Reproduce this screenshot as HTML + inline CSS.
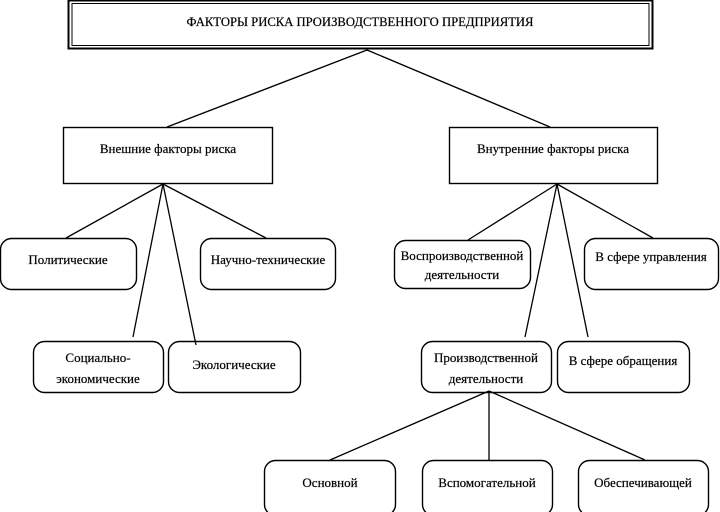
<!DOCTYPE html>
<html><head><meta charset="utf-8"><style>
html,body{margin:0;padding:0;background:#fff;}
svg{display:block;}
</style></head><body>
<svg width="720" height="512" viewBox="0 0 720 512" xmlns="http://www.w3.org/2000/svg">
<g fill="#fff" stroke="#000">
<rect x="68.5" y="0.5" width="584" height="48" stroke-width="2"/>
<rect x="72" y="3.5" width="577" height="42" stroke-width="1"/>
<rect x="63.5" y="127.5" width="209" height="56" stroke-width="1.4"/>
<rect x="449.5" y="127.5" width="208" height="56" stroke-width="1.4"/>
<g stroke-width="1.4">
<rect x="0.5" y="238.5" width="136" height="51" rx="11"/>
<rect x="200.5" y="238.5" width="135" height="51" rx="11"/>
<rect x="394.5" y="240.5" width="136" height="48" rx="11"/>
<rect x="584.5" y="238.5" width="134" height="51" rx="11"/>
<rect x="33.5" y="341.5" width="130" height="51" rx="11"/>
<rect x="168.5" y="341.5" width="132" height="51" rx="11"/>
<rect x="421.5" y="341.5" width="130" height="51" rx="11"/>
<rect x="557.5" y="341.5" width="132" height="51" rx="11"/>
<rect x="264.5" y="460.5" width="131" height="55" rx="11"/>
<rect x="422.5" y="460.5" width="130" height="55" rx="11"/>
<rect x="578.5" y="460.5" width="130" height="55" rx="11"/>
</g>
</g>
<g stroke="#000" stroke-width="1.3" fill="none">
<line x1="367" y1="50" x2="167" y2="127"/>
<line x1="367" y1="50" x2="550" y2="127"/>
<line x1="163" y1="184" x2="66" y2="238"/>
<line x1="163" y1="184" x2="266" y2="238"/>
<line x1="163" y1="184" x2="133" y2="337"/>
<line x1="163" y1="184" x2="196" y2="345"/>
<line x1="557" y1="184" x2="468" y2="240"/>
<line x1="557" y1="184" x2="653" y2="238"/>
<line x1="557" y1="184" x2="525" y2="337"/>
<line x1="557" y1="184" x2="588" y2="337"/>
<line x1="489" y1="391" x2="330" y2="460"/>
<line x1="489" y1="391" x2="489" y2="460"/>
<line x1="489" y1="391" x2="645" y2="460"/>
</g>
<g font-family="'Liberation Serif', 'DejaVu Serif', serif" font-size="13" text-anchor="middle" fill="#000" stroke="#000" stroke-width="0.2">
<text x="360" y="26" textLength="347" lengthAdjust="spacingAndGlyphs">ФАКТОРЫ РИСКА ПРОИЗВОДСТВЕННОГО ПРЕДПРИЯТИЯ</text>
<text x="168" y="153">Внешние факторы риска</text>
<text x="553" y="153">Внутренние факторы риска</text>
<text x="68" y="264">Политические</text>
<text x="268" y="264">Научно-технические</text>
<text x="462" y="260">Воспроизводственной</text>
<text x="462" y="279">деятельности</text>
<text x="651" y="261">В сфере управления</text>
<text x="98" y="362">Социально-</text>
<text x="98" y="383">экономические</text>
<text x="234" y="369">Экологические</text>
<text x="486" y="362">Производственной</text>
<text x="486" y="383">деятельности</text>
<text x="623" y="365">В сфере обращения</text>
<text x="330" y="487">Основной</text>
<text x="487" y="487">Вспомогательной</text>
<text x="643" y="487">Обеспечивающей</text>
</g>
</svg>
</body></html>
